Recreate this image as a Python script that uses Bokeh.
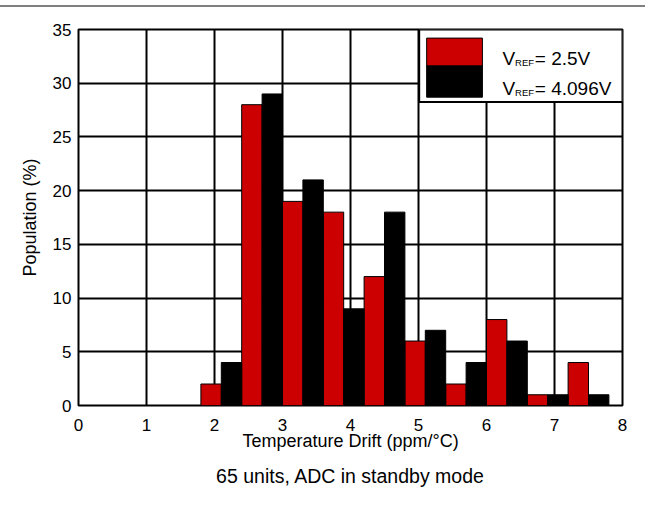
from bokeh.plotting import figure
from bokeh.models import Range1d, FixedTicker, BoxAnnotation, Label, Title, Div, Spacer
from bokeh.layouts import column
from bokeh.embed import file_html
from bokeh.resources import INLINE

# ---- data ----
bin_centers = [2.1, 2.7, 3.3, 3.9, 4.5, 5.1, 5.7, 6.3, 6.9, 7.5]
vref_25 = [2, 28, 19, 18, 12, 6, 2, 8, 1, 4]
vref_4096 = [4, 29, 21, 9, 18, 7, 4, 6, 1, 1]
x_ticks = [0, 1, 2, 3, 4, 5, 6, 7, 8]
y_ticks = [0, 5, 10, 15, 20, 25, 30, 35]
series_labels = ["2.5V", "4.096V"]

FONT = "Liberation Sans"
RED = "#CC0000"

p = figure(width=645, height=494, output_backend="svg", toolbar_location=None,
           x_range=Range1d(0, 8), y_range=Range1d(0, 35),
           min_border_left=78, min_border_right=23, min_border_top=22, min_border_bottom=96)

bar_w = 0.3
p.vbar(x=[c - bar_w / 2 for c in bin_centers], top=vref_25, width=bar_w, bottom=0,
       fill_color=RED, line_color="black", line_width=1)
p.vbar(x=[c + bar_w / 2 for c in bin_centers], top=vref_4096, width=bar_w, bottom=0,
       fill_color="black", line_color="black", line_width=1)

p.xaxis.ticker = FixedTicker(ticks=x_ticks)
p.yaxis.ticker = FixedTicker(ticks=y_ticks)
p.xgrid.ticker = FixedTicker(ticks=x_ticks)
p.ygrid.ticker = FixedTicker(ticks=y_ticks)
for g in (p.xgrid, p.ygrid):
    g.grid_line_color = "black"
    g.grid_line_width = 2
    g.grid_line_alpha = 1

p.outline_line_color = "black"
p.outline_line_width = 2
p.outline_line_alpha = 1

for ax in (p.xaxis, p.yaxis):
    ax.axis_line_color = None
    ax.major_tick_line_color = None
    ax.minor_tick_line_color = None
    ax.major_tick_out = 0
    ax.major_tick_in = 0
    ax.major_label_text_font = FONT
    ax.major_label_text_font_size = "17px"
    ax.major_label_text_color = "black"
    ax.axis_label_text_font = FONT
    ax.axis_label_text_font_size = "18px"
    ax.axis_label_text_font_style = "normal"
    ax.axis_label_text_color = "black"

p.xaxis.axis_label = "Temperature Drift (ppm/°C)"
p.yaxis.axis_label = "Population (%)"
p.xaxis.major_label_standoff = 13
p.xaxis.axis_label_standoff = -3
p.yaxis.major_label_standoff = 7
p.yaxis.axis_label_standoff = 10

cap = Title(text="65 units, ADC in standby mode", align="center",
            text_font=FONT, text_font_size="19.5px", text_font_style="normal",
            text_color="black", standoff=18)
p.add_layout(cap, "below")

# ---- legend (drawn manually to allow subscript) ----
p.add_layout(BoxAnnotation(left=5.01, right=8.0, top=35, bottom=28.24,
                           fill_color="white", fill_alpha=1,
                           line_color="black", line_width=2, line_alpha=1))
p.add_layout(BoxAnnotation(left=5.12, right=5.94, top=34.2, bottom=31.6,
                           fill_color=RED, fill_alpha=1,
                           line_color="black", line_width=1, line_alpha=1))
p.add_layout(BoxAnnotation(left=5.12, right=5.94, top=31.6, bottom=28.7,
                           fill_color="black", fill_alpha=1,
                           line_color="black", line_width=1, line_alpha=1))

rows_y = [32.33, 29.54]
for lab, yb in zip(series_labels, rows_y):
    p.add_layout(Label(x=6.235, y=yb, text="V", text_font=FONT, text_font_size="19px",
                       text_color="black", text_baseline="alphabetic"))
    p.add_layout(Label(x=6.42, y=yb - 0.43, text="REF", text_font=FONT, text_font_size="9.5px",
                       text_color="black", text_baseline="alphabetic"))
    p.add_layout(Label(x=6.71, y=yb, text="= " + lab, text_font=FONT, text_font_size="19px",
                       text_color="black", text_baseline="alphabetic"))

# thin gray rule across the top of the page
gap = Spacer(width=645, height=5, margin=0)
rule = Div(width=645, height=2, text="", margin=0,
           styles={"background-color": "#808080"})

layout = column(gap, rule, p, spacing=0)
open("out.html", "w").write(file_html(layout, INLINE))
